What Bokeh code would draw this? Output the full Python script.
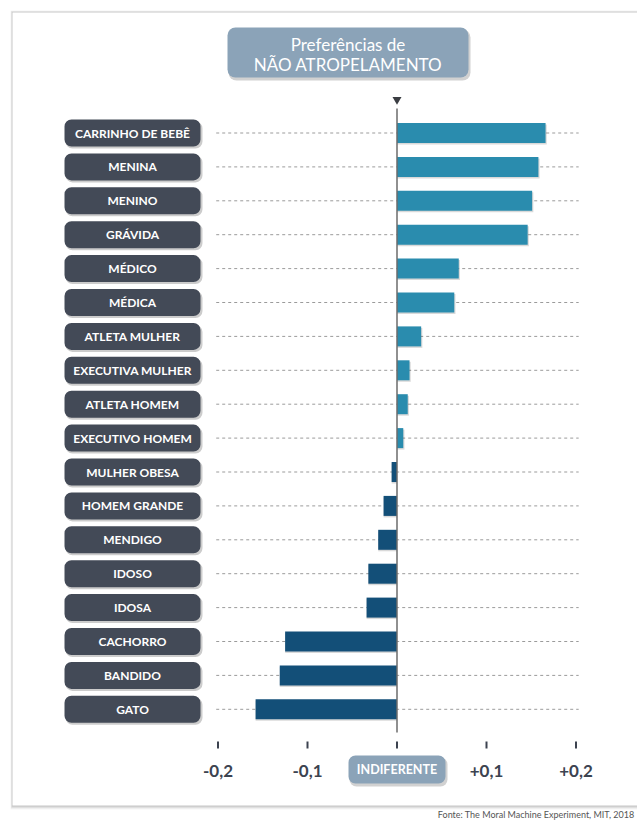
from bokeh.plotting import figure
from bokeh.models import Range1d
from bokeh.core.properties import value
from bokeh.embed import file_html
from bokeh.resources import INLINE

# ---------------- data ----------------
categories = ["CARRINHO DE BEBÊ", "MENINA", "MENINO", "GRÁVIDA", "MÉDICO", "MÉDICA",
              "ATLETA MULHER", "EXECUTIVA MULHER", "ATLETA HOMEM", "EXECUTIVO HOMEM",
              "MULHER OBESA", "HOMEM GRANDE", "MENDIGO", "IDOSO", "IDOSA",
              "CACHORRO", "BANDIDO", "GATO"]
values = [0.166, 0.158, 0.151, 0.146, 0.069, 0.064,
          0.027, 0.014, 0.012, 0.007,
          -0.006, -0.015, -0.021, -0.032, -0.034,
          -0.125, -0.131, -0.158]
tick_values = [-0.2, -0.1, 0.1, 0.2]
tick_labels = ["-0,2", "-0,1", "+0,1", "+0,2"]
title_lines = ["Preferências de", "NÃO ATROPELAMENTO"]
center_label = "INDIFERENTE"
source_note = "Fonte: The Moral Machine Experiment, MIT, 2018"

# ---------------- layout helpers (pixel -> data) ----------------
W, H = 637, 821
N = len(categories)
X0, XS = 396.5, 895.0      # zero position, pixels per unit
Y0, YS = 132.5, 33.9       # first row centre, pixels per row


def X(px):
    return (px - X0) / XS


def Y(py):
    return (N - 1) - (py - Y0) / YS


ypos = [N - 1 - i for i in range(N)]
POS, NEG = "#2a8cae", "#134f78"
PILL = "#434a57"
STEEL = "#8ba3b8"
FONT = value("Lato")

p = figure(width=W, height=H, output_backend="svg", toolbar_location=None,
           x_range=Range1d(X(0), X(W)), y_range=Range1d(Y(H), Y(0)),
           x_axis_type=None, y_axis_type=None, min_border=0,
           background_fill_color="white", border_fill_color="white")
p.outline_line_color = None
p.grid.visible = False

# card with shadow
for off, a in [(4, 0.04), (3, 0.05), (2, 0.07), (1, 0.08)]:
    p.quad(left=[X(12 - off * 0.5)], right=[X(700)], top=[Y(12 - off * 0.5)], bottom=[Y(805 + off)],
           fill_color="black", fill_alpha=a, line_color=None)
p.quad(left=[X(12)], right=[X(700)], top=[Y(12)], bottom=[Y(805)],
       fill_color="white", line_color=None)

# title box
p.quad(left=[X(228)], right=[X(470)], top=[Y(29)], bottom=[Y(80)],
       fill_color="black", fill_alpha=0.18, line_color=None, border_radius=8)
p.quad(left=[X(227)], right=[X(468)], top=[Y(27)], bottom=[Y(77)],
       fill_color=STEEL, line_color=None, border_radius=8)
p.text(x=[X(347.5), X(347.5)], y=[Y(44), Y(64)], text=title_lines,
       text_font=FONT, text_font_size="17px", text_color="white",
       text_align="center", text_baseline="middle")

# pointer triangle
p.scatter(x=[0], y=[Y(99)], marker="inverted_triangle", size=9,
          fill_color="#3a3d42", line_color=None)

# dashed guide lines
p.segment(x0=[-0.202] * N, x1=[0.203] * N, y0=ypos, y1=ypos,
          line_color="#9b9b9b", line_width=1, line_dash="3 3")

# label pills
yb = 13.5 / YS
p.quad(left=[X(65)] * N, right=[X(202)] * N,
       top=[y + yb - 2 / YS for y in ypos], bottom=[y - yb - 2 / YS for y in ypos],
       fill_color="black", fill_alpha=0.2, line_color=None, border_radius=7)
p.quad(left=[X(64)] * N, right=[X(200)] * N,
       top=[y + yb for y in ypos], bottom=[y - yb for y in ypos],
       fill_color=PILL, line_color=None, border_radius=7)
p.text(x=[X(132)] * N, y=ypos, text=categories, text_font=FONT,
       text_font_style="bold", text_font_size="12px", text_color="white",
       text_align="center", text_baseline="middle")

# bars
colors = [POS if v >= 0 else NEG for v in values]
bh = 20 / YS
p.hbar(y=[y - 1.5 / YS for y in ypos], left=0,
       right=[v + (1.2 / XS if v >= 0 else 0) for v in values], height=bh,
       fill_color="black", fill_alpha=0.15, line_color=None)
p.hbar(y=ypos, left=0, right=values, height=bh, fill_color=colors, line_color=None)

# zero line
p.segment(x0=[0], x1=[0], y0=[Y(108)], y1=[Y(732)], line_color="#6b6b6b", line_width=1.5)

# ticks
p.segment(x0=tick_values + [0], x1=tick_values + [0], y0=[Y(741)] * 5, y1=[Y(748)] * 5,
          line_color="#3c4350", line_width=2)
p.text(x=tick_values, y=[Y(770)] * 4, text=tick_labels, text_font=FONT,
       text_font_style="bold", text_font_size="17px", text_color="#3c4350",
       text_align="center", text_baseline="middle")

# INDIFERENTE pill
p.quad(left=[X(349)], right=[X(447)], top=[Y(757)], bottom=[Y(786)],
       fill_color="black", fill_alpha=0.18, line_color=None, border_radius=7)
p.quad(left=[X(348)], right=[X(445)], top=[Y(755)], bottom=[Y(783)],
       fill_color=STEEL, line_color=None, border_radius=7)
p.text(x=[0], y=[Y(769)], text=[center_label], text_font=FONT,
       text_font_style="bold", text_font_size="12.5px", text_color="white",
       text_align="center", text_baseline="middle")

# source note
p.text(x=[X(634)], y=[Y(814)], text=[source_note], text_font=FONT,
       text_font_size="9px", text_color="#555555",
       text_align="right", text_baseline="middle")

open("out.html", "w").write(file_html(p, INLINE))
